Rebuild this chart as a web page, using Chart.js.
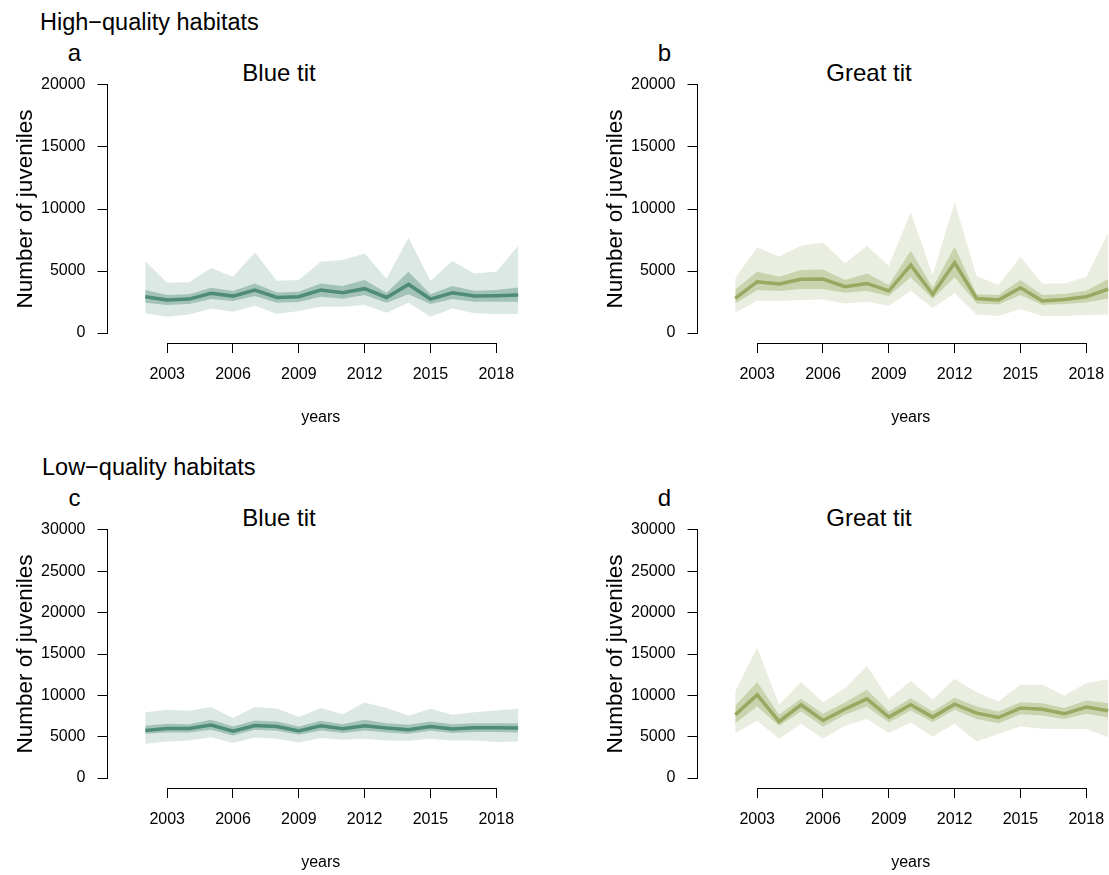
<!DOCTYPE html>
<html lang="en">
<head>
<meta charset="UTF-8">
<title>Juveniles</title>
<script src="https://cdn.jsdelivr.net/npm/chart.js@4.4.1/dist/chart.umd.min.js"></script>
<style>
  body { margin: 0; background: #fff; }
  #page { position: relative; width: 1109px; height: 875px; overflow: hidden; }
  canvas { position: absolute; }
  .lbl {
    position: absolute; font-family: "Liberation Sans", Arial, Helvetica, sans-serif;
    font-size: 24px; line-height: 24px; white-space: nowrap; color: #000;
  }
  .mid { transform: translateX(-50%); }
</style>
</head>
<body>
<div id="page">
  <div class="lbl" style="left:40px; top:10px; font-size:23.5px;">High−quality habitats</div>
  <div class="lbl mid" style="left:74.5px; top:41px;">a</div>
  <div class="lbl mid" style="left:279px; top:61px;">Blue tit</div>
  <div class="lbl mid" style="left:664.5px; top:41px;">b</div>
  <div class="lbl mid" style="left:869px; top:61px;">Great tit</div>

  <div class="lbl" style="left:42px; top:455px; font-size:23.5px;">Low−quality habitats</div>
  <div class="lbl mid" style="left:74.5px; top:486px;">c</div>
  <div class="lbl mid" style="left:279px; top:506px;">Blue tit</div>
  <div class="lbl mid" style="left:664.5px; top:486px;">d</div>
  <div class="lbl mid" style="left:869px; top:506px;">Great tit</div>

  <canvas id="pa" width="534" height="440" style="left:0px; top:0px;"></canvas>
  <canvas id="pb" width="534" height="440" style="left:590px; top:0px;"></canvas>
  <canvas id="pc" width="534" height="440" style="left:0px; top:445px;"></canvas>
  <canvas id="pd" width="534" height="440" style="left:590px; top:445px;"></canvas>
</div>

<script>
// years and tick labels
const years = [2002, 2003, 2004, 2005, 2006, 2007, 2008, 2009, 2010, 2011, 2012, 2013, 2014, 2015, 2016, 2017, 2018, 2019];
const xTicks = [2003, 2006, 2009, 2012, 2015, 2018];
const yTicksHigh = [0, 5000, 10000, 15000, 20000];
const yTicksLow = [0, 5000, 10000, 15000, 20000, 25000, 30000];

// a: high-quality, blue tit
const hqBlueMean    = [2930, 2660, 2740, 3200, 2980, 3470, 2870, 2930, 3470, 3250, 3580, 2870, 3920, 2740, 3250, 2980, 3010, 3060];
const hqBlueInnerLo = [2450, 2260, 2340, 2740, 2580, 2980, 2450, 2500, 2930, 2770, 3060, 2450, 3120, 2340, 2740, 2530, 2530, 2530];
const hqBlueInnerHi = [3470, 3060, 3120, 3660, 3390, 4000, 3280, 3330, 4000, 3790, 4270, 3250, 4950, 3120, 3790, 3410, 3470, 3680];
const hqBlueOuterLo = [1590, 1320, 1500, 1990, 1720, 2210, 1530, 1770, 2120, 2120, 2260, 1640, 2450, 1320, 1990, 1590, 1530, 1530];
const hqBlueOuterHi = [5810, 4060, 4090, 5240, 4540, 6500, 4220, 4270, 5750, 5890, 6420, 4380, 7690, 4190, 5810, 4810, 4950, 7040];

// b: high-quality, great tit
const hqGreatMean    = [2790, 4140, 3950, 4330, 4350, 3740, 4000, 3390, 5480, 3120, 5670, 2790, 2660, 3660, 2580, 2710, 2930, 3550];
const hqGreatInnerLo = [2390, 3470, 3390, 3550, 3550, 3250, 3390, 2980, 4490, 2740, 4490, 2390, 2310, 3060, 2260, 2340, 2470, 2790];
const hqGreatInnerHi = [3520, 4950, 4540, 5080, 5130, 4270, 4810, 3870, 6640, 3680, 6960, 3120, 3060, 4270, 3060, 3150, 3410, 4350];
const hqGreatOuterLo = [1640, 2610, 2580, 2660, 2710, 2390, 2530, 2210, 3390, 2040, 3200, 1500, 1370, 1940, 1370, 1370, 1450, 1500];
const hqGreatOuterHi = [4410, 6910, 6160, 7040, 7290, 5620, 7040, 5430, 9730, 4680, 10540, 4600, 3870, 6160, 4000, 4000, 4540, 8090];

// c: low-quality, blue tit
const lqBlueMean    = [5750, 5990, 5990, 6400, 5680, 6360, 6240, 5710, 6320, 5960, 6320, 6040, 5840, 6240, 5920, 6080, 6080, 6040];
const lqBlueInnerLo = [5350, 5510, 5510, 5840, 5150, 5840, 5710, 5230, 5750, 5440, 5750, 5510, 5350, 5710, 5440, 5560, 5560, 5510];
const lqBlueInnerHi = [6320, 6560, 6520, 7040, 6240, 6960, 6840, 6240, 6920, 6520, 7040, 6640, 6440, 6840, 6520, 6640, 6640, 6640];
const lqBlueOuterLo = [4140, 4420, 4540, 4950, 4230, 4910, 4750, 4300, 4830, 4630, 4750, 4540, 4510, 4750, 4540, 4540, 4350, 4420];
const lqBlueOuterHi = [7970, 8250, 8130, 8580, 7250, 8580, 8410, 7370, 8460, 7730, 9130, 8460, 7530, 8370, 7650, 7970, 8170, 8370];

// d: low-quality, great tit
const lqGreatMean    = [7650, 10060, 6840, 8860, 6960, 8330, 9580, 7370, 8860, 7370, 8940, 7850, 7320, 8460, 8330, 7770, 8580, 8130];
const lqGreatInnerLo = [6640, 8650, 6320, 8050, 6240, 7650, 8650, 6720, 8170, 6770, 8250, 7130, 6640, 7730, 7560, 7130, 7770, 7320];
const lqGreatInnerHi = [8740, 11600, 7650, 9580, 7770, 9130, 10670, 8050, 9660, 8050, 9700, 8650, 8050, 9180, 9060, 8460, 9380, 9060];
const lqGreatOuterLo = [5440, 6920, 4750, 6560, 4750, 6320, 7130, 5440, 6720, 5030, 6560, 4420, 5320, 6240, 5960, 5920, 5920, 4950];
const lqGreatOuterHi = [10460, 15780, 8860, 11600, 9180, 10870, 13570, 9540, 11760, 9460, 12000, 10390, 9250, 11270, 11270, 9940, 11480, 11960];

const FONT = '"Liberation Sans", Arial, Helvetica, sans-serif';
const blue = [78, 140, 118];
const great = [152, 170, 98];

function rgba(c, a) { return 'rgba(' + c[0] + ',' + c[1] + ',' + c[2] + ',' + a + ')'; }
function rgb(c) { return 'rgb(' + c[0] + ',' + c[1] + ',' + c[2] + ')'; }
function pts(vals) { return vals.map((v, i) => ({ x: years[i], y: v })); }

// R style axis lines: only from first to last tick
const axisLines = {
  id: 'axisLines',
  afterDraw(chart) {
    const { ctx, chartArea, scales } = chart;
    const x = scales.x, y = scales.y;
    const xt = x.ticks, yt = y.ticks;
    const ax = Math.round(chartArea.left - 0.5) + 0.5;
    const ay = Math.round(chartArea.bottom - 0.5) + 0.5;
    ctx.save();
    ctx.strokeStyle = '#000';
    ctx.lineWidth = 1;
    ctx.beginPath();
    ctx.moveTo(x.getPixelForValue(xt[0].value), ay);
    ctx.lineTo(x.getPixelForValue(xt[xt.length - 1].value), ay);
    ctx.moveTo(ax, y.getPixelForValue(yt[0].value));
    ctx.lineTo(ax, y.getPixelForValue(yt[yt.length - 1].value));
    ctx.stroke();
    ctx.restore();
  }
};

function makePanel(id, col, mean, inLo, inHi, outLo, outHi, yTicks, yMax) {
  const pad = yMax * 0.04;
  new Chart(document.getElementById(id), {
    type: 'line',
    data: {
      datasets: [
        { data: pts(outHi), fill: '+1', backgroundColor: rgba(col, 0.2), borderWidth: 0, pointRadius: 0, order: 3 },
        { data: pts(outLo), fill: false, borderWidth: 0, pointRadius: 0, order: 3 },
        { data: pts(inHi), fill: '+1', backgroundColor: rgba(col, 0.4), borderWidth: 0, pointRadius: 0, order: 2 },
        { data: pts(inLo), fill: false, borderWidth: 0, pointRadius: 0, order: 2 },
        { data: pts(mean), fill: false, borderColor: rgb(col), borderWidth: 3.5, pointRadius: 0, order: 1 }
      ]
    },
    options: {
      responsive: false,
      animation: false,
      devicePixelRatio: 1,
      layout: { padding: { top: 75, left: 0, right: 0, bottom: 0 } },
      plugins: { legend: { display: false }, tooltip: { enabled: false }, title: { display: false } },
      scales: {
        x: {
          type: 'linear',
          min: 2000.28, max: 2019.72,
          afterBuildTicks: s => { s.ticks = xTicks.map(v => ({ value: v })); },
          afterFit: s => { s.height = 97; },
          grid: { drawOnChartArea: false, drawTicks: true, tickLength: 10, color: '#000' },
          border: { display: false },
          ticks: { color: '#000', font: { family: FONT, size: 16 }, padding: 12, maxRotation: 0, autoSkip: false, callback: v => String(v) },
          title: { display: true, text: 'years', color: '#000', font: { family: FONT, size: 16 }, padding: { top: 0, bottom: 12.4 } }
        },
        y: {
          type: 'linear',
          min: -pad, max: yMax + pad,
          afterBuildTicks: s => { s.ticks = yTicks.map(v => ({ value: v })); },
          afterFit: s => { s.width = 107.5; },
          grid: { drawOnChartArea: false, drawTicks: true, tickLength: 10, color: '#000' },
          border: { display: false },
          ticks: { color: '#000', font: { family: FONT, size: 16 }, padding: 12, autoSkip: false, callback: v => String(v) },
          title: { display: true, text: 'Number of juveniles', color: '#000', font: { family: FONT, size: 22.5 }, padding: { top: 12, bottom: 0 } }
        }
      }
    },
    plugins: [axisLines]
  });
}

makePanel('pa', blue, hqBlueMean, hqBlueInnerLo, hqBlueInnerHi, hqBlueOuterLo, hqBlueOuterHi, yTicksHigh, 20000);
makePanel('pb', great, hqGreatMean, hqGreatInnerLo, hqGreatInnerHi, hqGreatOuterLo, hqGreatOuterHi, yTicksHigh, 20000);
makePanel('pc', blue, lqBlueMean, lqBlueInnerLo, lqBlueInnerHi, lqBlueOuterLo, lqBlueOuterHi, yTicksLow, 30000);
makePanel('pd', great, lqGreatMean, lqGreatInnerLo, lqGreatInnerHi, lqGreatOuterLo, lqGreatOuterHi, yTicksLow, 30000);
</script>
</body>
</html>
